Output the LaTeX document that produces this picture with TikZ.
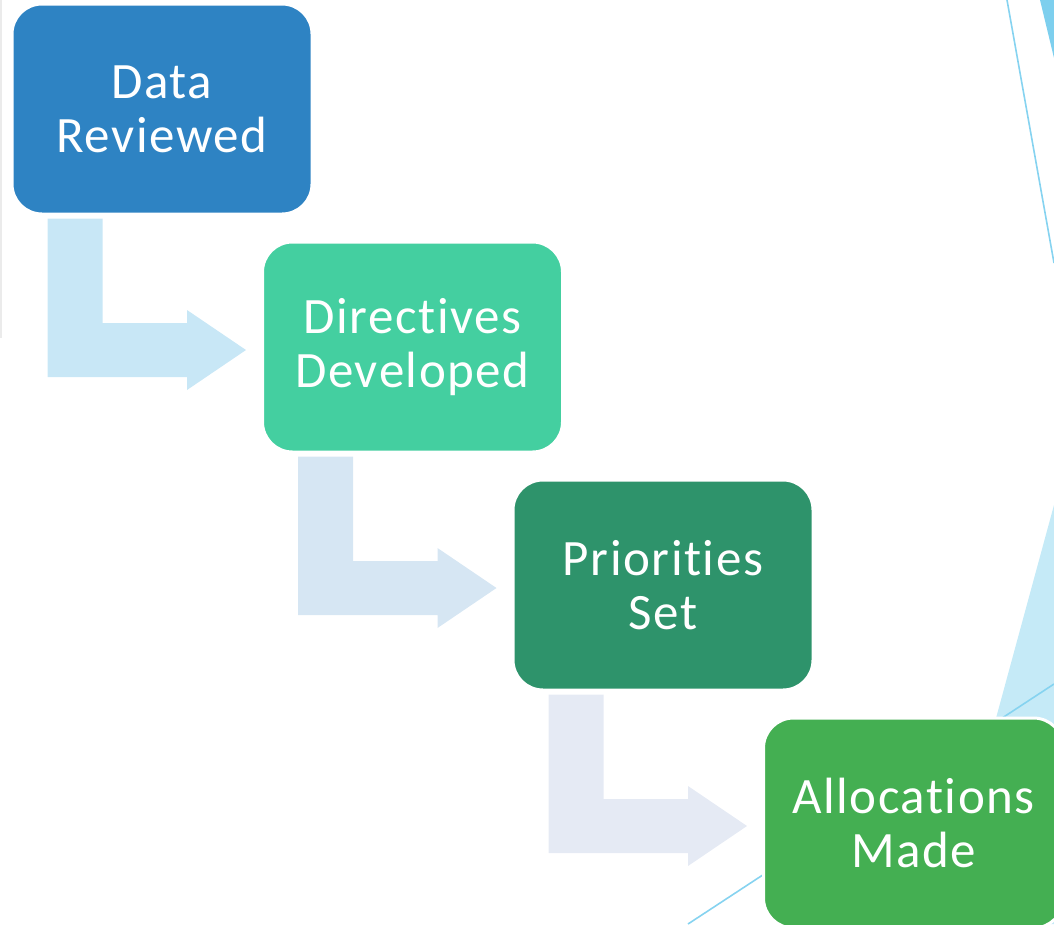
\documentclass[tikz,border=0pt]{standalone}
\usepackage{fontspec}
\newfontfamily\stepfont{Carlito}[LetterSpace=3,Ligatures=NoCommon]
\usetikzlibrary{calc}

\definecolor{dataBlue}{HTML}{2E83C3}
\definecolor{directGreen}{HTML}{44CFA0}
\definecolor{prioGreen}{HTML}{2E936B}
\definecolor{allocGreen}{HTML}{44AF52}
\definecolor{arrowA}{HTML}{C8E7F6}
\definecolor{arrowB}{HTML}{D6E6F3}
\definecolor{arrowC}{HTML}{E5EAF4}
\definecolor{skyLine}{HTML}{86D3F0}
\definecolor{skyDark}{HTML}{7DCFEE}
\definecolor{skyLight}{HTML}{C5EAF7}

\providecommand*{\boxW}{}
\providecommand*{\boxH}{}
\providecommand*{\stepX}{}
\providecommand*{\stepY}{}
\renewcommand*{\boxW}{300}
\renewcommand*{\boxH}{210}
\renewcommand*{\stepX}{250.5}
\renewcommand*{\stepY}{238}

\begin{document}
\begin{tikzpicture}[x=1pt,y=-1pt,
    stepbox/.style={rectangle,rounded corners=30pt,draw=white,line width=3pt,
      minimum width=\boxW pt,minimum height=\boxH pt,inner sep=0pt,
      text=white,align=center,font=\stepfont\fontsize{51}{54}\selectfont},
    skyline/.style={draw=skyLine,line width=1.6pt}]
  \path[use as bounding box,clip] (0,0) rectangle (1054,924);
  % background
  \fill[skyDark] (1040,0) -- (1054,0) -- (1054,58) -- cycle;
  \draw[skyline] (1007,0) -- (1054,263);
  \fill[skyLight] (1054,505) -- (940,924) -- (1054,924) -- cycle;
  \draw[skyline] (688,924) -- (1054,684);
  \draw[black!8,line width=1.5pt] (1,0) -- (1,338);
  % steps
  \foreach \i/\col/\txt in {1/dataBlue/Data\\Reviewed,
      2/directGreen/Directives\\Developed,
      3/prioGreen/Priorities\\Set,
      4/allocGreen/Allocations\\Made} {
    \node[stepbox,fill=\col] (box\i) at ({162+\stepX*(\i-1)},{109+\stepY*(\i-1)}) {\txt};
  }
  \foreach \i/\j/\col in {1/2/arrowA,2/3/arrowB,3/4/arrowC} {
    \fill[\col] ($(box\i.south west)+(37,3)$) -- ($(box\i.south west)+(92,3)$)
      -- ($(box\i.south west |- box\j.west)+(92,-24)$) -- ($(box\j.west)+(-74,-24)$)
      -- ($(box\j.west)+(-74,-37)$) -- ($(box\j.west)+(-15,3)$)
      -- ($(box\j.west)+(-74,43)$) -- ($(box\j.west)+(-74,30)$)
      -- ($(box\i.south west |- box\j.west)+(37,30)$) -- cycle;
  }
\end{tikzpicture}
\end{document}
